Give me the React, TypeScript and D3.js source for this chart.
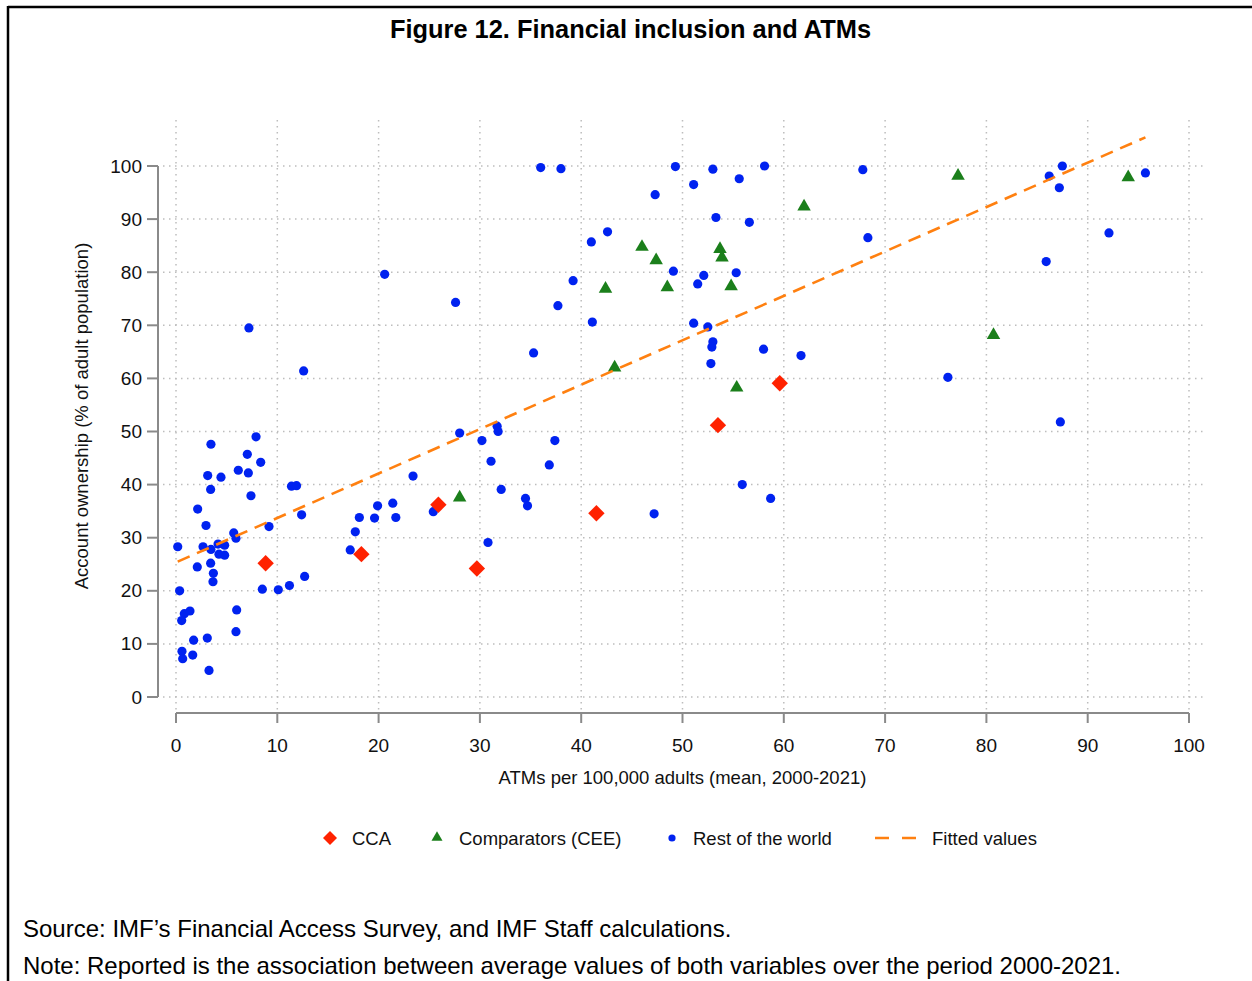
import React from "react";
import * as d3 from "d3";

// ---- Data ----
const ccaX = [8.85, 18.3, 25.9, 29.7, 41.5, 53.5, 59.6];
const ccaY = [25.2, 26.9, 36.2, 24.2, 34.6, 51.2, 59.1];

const ceeX = [28.0, 42.4, 43.3, 46.0, 47.4, 48.5, 53.7, 53.9, 54.8, 55.35, 62.0, 77.2, 80.7, 94.0];
const ceeY = [37.7, 77.0, 62.2, 84.9, 82.4, 77.3, 84.5, 82.9, 77.5, 58.4, 92.5, 98.3, 68.3, 98.0];

const rowX = [
  7.9, 3.45, 7.04, 8.36, 6.15, 7.14, 3.13, 4.44, 3.42, 7.4, 11.4, 11.9, 2.14, 12.4, 2.96, 9.18,
  5.7, 5.92, 0.17, 2.67, 3.45, 4.15, 4.8, 4.24, 4.8, 2.1, 3.42, 3.69, 3.65, 8.52, 10.1, 11.2,
  12.7, 17.2, 0.36, 0.82, 1.38, 0.56, 5.99, 5.92, 1.74, 3.09, 0.59, 0.66, 1.65, 3.26,
  7.2, 12.6, 20.6, 27.6,
  28.0, 30.2, 31.7, 31.8, 37.4, 31.1, 36.85, 23.4, 32.1, 34.5, 34.7, 19.9, 21.4, 18.1, 19.6,
  21.7, 25.4, 17.7, 30.8,
  36.0, 38.0, 49.3, 53.0, 58.1, 55.6, 51.1, 47.3, 53.3, 56.6, 42.6, 41.0, 49.1, 52.1, 55.3,
  51.5, 39.2, 37.7, 41.1, 51.1, 52.5, 53.0, 52.9, 52.8, 58.0, 61.7, 35.3,
  55.9, 58.7, 47.2,
  67.8, 87.5, 86.2, 87.2, 95.7, 68.3, 92.1, 85.9, 76.2, 87.3,
];
const rowY = [
  49.0, 47.6, 45.7, 44.2, 42.7, 42.2, 41.7, 41.4, 39.1, 37.9, 39.7, 39.8, 35.4, 34.3, 32.3, 32.1,
  30.9, 29.9, 28.3, 28.3, 27.8, 28.8, 28.6, 26.9, 26.7, 24.5, 25.2, 23.3, 21.7, 20.3, 20.2, 21.0,
  22.7, 27.7, 20.0, 15.7, 16.2, 14.4, 16.4, 12.3, 10.7, 11.1, 8.6, 7.2, 7.9, 5.0,
  69.5, 61.4, 79.6, 74.3,
  49.7, 48.3, 51.0, 50.0, 48.3, 44.4, 43.7, 41.6, 39.1, 37.4, 36.0, 36.0, 36.5, 33.8, 33.7,
  33.8, 34.9, 31.1, 29.1,
  99.7, 99.5, 99.9, 99.4, 100.0, 97.6, 96.5, 94.6, 90.3, 89.4, 87.6, 85.7, 80.2, 79.4, 79.9,
  77.8, 78.4, 73.7, 70.6, 70.4, 69.7, 66.9, 65.9, 62.8, 65.5, 64.3, 64.8,
  40.0, 37.4, 34.5,
  99.3, 100.0, 98.1, 95.9, 98.7, 86.5, 87.4, 82.0, 60.2, 51.8,
];

const fitX = [0.17, 95.7];
const fitY = [25.5, 105.4];

const xTicks = [0, 10, 20, 30, 40, 50, 60, 70, 80, 90, 100];
const yTicks = [0, 10, 20, 30, 40, 50, 60, 70, 80, 90, 100];

const legendLabels = ["CCA", "Comparators (CEE)", "Rest of the world", "Fitted values"];

const titleText = "Figure 12. Financial inclusion and ATMs";
const xLabel = "ATMs per 100,000 adults (mean, 2000-2021)";
const yLabel = "Account ownership (% of adult population)";
const sourceText = "Source: IMF\u2019s Financial Access Survey, and IMF Staff calculations.";
const noteText = "Note: Reported is the association between average values of both variables over the period 2000-2021.";

// ---- Styles ----
const FONT = "'Liberation Sans', Arial, Helvetica, sans-serif";
const BLUE = "#0022f0";
const GREEN = "#1b7f1b";
const RED = "#ff2200";
const ORANGE = "#ff8010";
const GRID = "#bdbdbd";
const AXIS = "#8a8a8a";

const W = 1252;
const H = 981;

function diamondPath(cx: number, cy: number, r: number) {
  return `M${cx},${cy - r}L${cx + r},${cy}L${cx},${cy + r}L${cx - r},${cy}Z`;
}
function trianglePath(cx: number, cy: number, s: number) {
  const h = s * 0.866;
  return `M${cx},${cy - h * 0.6}L${cx + s / 2},${cy + h * 0.4}L${cx - s / 2},${cy + h * 0.4}Z`;
}

export default function App() {
  const x = d3.scaleLinear().domain([0, 100]).range([176, 1189]);
  const y = d3.scaleLinear().domain([0, 100]).range([697, 166]);

  const plotLeft = 163;
  const plotRight = 1206;
  const plotTop = 120;
  const xAxisY = 713;
  const yAxisX = 158;

  const line = d3
    .line<number>()
    .x((d) => x(d))
    .y((_, i) => y(fitY[i]));

  const rows = rowX.map((v, i) => [v, rowY[i]]);
  const cees = ceeX.map((v, i) => [v, ceeY[i]]);
  const ccas = ccaX.map((v, i) => [v, ccaY[i]]);

  const legY = 838;

  return (
    <svg
      width={W}
      height={H}
      viewBox={`0 0 ${W} ${H}`}
      style={{ position: "absolute", left: 0, top: 0, background: "#fff" }}
      fontFamily={FONT}
    >
      <rect x={0} y={0} width={W} height={H} fill="#fff" />
      {/* frame */}
      <line x1={8} y1={7} x2={W + 5} y2={7} stroke="#000" strokeWidth={2.5} />
      <line x1={8} y1={6} x2={8} y2={H + 5} stroke="#000" strokeWidth={2.5} />

      {/* title */}
      <text x={630.5} y={38} textAnchor="middle" fontSize={25.4} fontWeight="bold" fill="#000">
        {titleText}
      </text>

      {/* grid */}
      <g stroke={GRID} strokeWidth={1.5} strokeDasharray="1.5,4.5">
        {yTicks.map((t) => (
          <line key={"gy" + t} x1={plotLeft} x2={plotRight} y1={y(t)} y2={y(t)} />
        ))}
        {xTicks.map((t) => (
          <line key={"gx" + t} x1={x(t)} x2={x(t)} y1={plotTop} y2={xAxisY} />
        ))}
      </g>

      {/* y axis */}
      <line x1={yAxisX} x2={yAxisX} y1={y(100)} y2={y(0)} stroke={AXIS} strokeWidth={2} />
      {yTicks.map((t) => (
        <g key={"yt" + t}>
          <line x1={yAxisX - 11} x2={yAxisX} y1={y(t)} y2={y(t)} stroke={AXIS} strokeWidth={2} />
          <text x={142} y={y(t) + 6.5} textAnchor="end" fontSize={19} fill="#111">
            {t}
          </text>
        </g>
      ))}
      <text
        transform={`translate(88,416) rotate(-90)`}
        textAnchor="middle"
        fontSize={18.5}
        fill="#111"
      >
        {yLabel}
      </text>

      {/* x axis */}
      <line x1={x(0)} x2={x(100)} y1={xAxisY} y2={xAxisY} stroke={AXIS} strokeWidth={2} />
      {xTicks.map((t) => (
        <g key={"xt" + t}>
          <line x1={x(t)} x2={x(t)} y1={xAxisY} y2={xAxisY + 10} stroke={AXIS} strokeWidth={2} />
          <text x={x(t)} y={752} textAnchor="middle" fontSize={19} fill="#111">
            {t}
          </text>
        </g>
      ))}
      <text x={x(50)} y={784} textAnchor="middle" fontSize={18.5} fill="#111">
        {xLabel}
      </text>

      {/* points */}
      <g fill={BLUE}>
        {rows.map((d, i) => (
          <circle key={"r" + i} cx={x(d[0])} cy={y(d[1])} r={4.6} />
        ))}
      </g>
      <g fill={GREEN}>
        {cees.map((d, i) => (
          <path key={"c" + i} d={trianglePath(x(d[0]), y(d[1]), 13.5)} />
        ))}
      </g>
      <g fill={RED}>
        {ccas.map((d, i) => (
          <path key={"a" + i} d={diamondPath(x(d[0]), y(d[1]), 8.2)} />
        ))}
      </g>

      {/* fitted line */}
      <path
        d={line(fitX) || ""}
        fill="none"
        stroke={ORANGE}
        strokeWidth={2.6}
        strokeDasharray="13,8"
      />

      {/* legend */}
      <g fontSize={18.5} fill="#111">
        <path d={diamondPath(330, legY, 7)} fill={RED} />
        <text x={352} y={legY + 7}>{legendLabels[0]}</text>
        <path d={trianglePath(437, legY - 1, 11)} fill={GREEN} />
        <text x={459} y={legY + 7}>{legendLabels[1]}</text>
        <circle cx={672} cy={legY} r={3.6} fill={BLUE} />
        <text x={693} y={legY + 7}>{legendLabels[2]}</text>
        <line x1={875} x2={916} y1={legY} y2={legY} stroke={ORANGE} strokeWidth={2.6} strokeDasharray="14,13" />
        <text x={932} y={legY + 7}>{legendLabels[3]}</text>
      </g>

      {/* notes */}
      <text x={23} y={937} fontSize={24} fill="#000">
        {sourceText}
      </text>
      <text x={23} y={974} fontSize={24} fill="#000">
        {noteText}
      </text>
    </svg>
  );
}
